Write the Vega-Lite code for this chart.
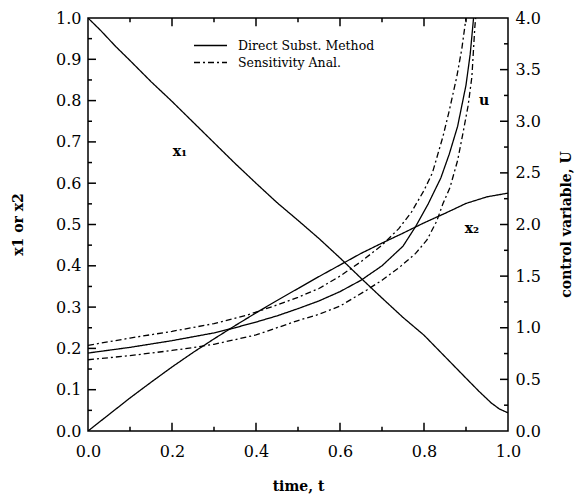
{
  "$schema": "https://vega.github.io/schema/vega-lite/v6.json",
  "width": 420,
  "height": 413,
  "autosize": {"type": "none"},
  "padding": {"left": 88, "top": 18, "right": 67, "bottom": 69},
  "background": "white",
  "config": {
    "view": {"stroke": "black", "strokeWidth": 1.5},
    "font": "DejaVu Serif",
    "axis": {
      "domain": false,
      "ticks": false,
      "tickSize": 0,
      "grid": false,
      "labelFlush": false,
      "labelFont": "DejaVu Serif",
      "labelFontSize": 16,
      "labelColor": "black",
      "titleFont": "DejaVu Serif",
      "titleFontSize": 14,
      "titleFontWeight": "bold",
      "titleColor": "black"
    }
  },
  "datasets": {
    "states": [
      {"curve": "x1", "method": "Direct Subst. Method", "t": 0, "v": 1.0},
      {"curve": "x1", "method": "Direct Subst. Method", "t": 0.03, "v": 0.97},
      {"curve": "x1", "method": "Direct Subst. Method", "t": 0.065, "v": 0.932},
      {"curve": "x1", "method": "Direct Subst. Method", "t": 0.1, "v": 0.897},
      {"curve": "x1", "method": "Direct Subst. Method", "t": 0.15, "v": 0.846},
      {"curve": "x1", "method": "Direct Subst. Method", "t": 0.2, "v": 0.798},
      {"curve": "x1", "method": "Direct Subst. Method", "t": 0.25, "v": 0.748},
      {"curve": "x1", "method": "Direct Subst. Method", "t": 0.3, "v": 0.698},
      {"curve": "x1", "method": "Direct Subst. Method", "t": 0.35, "v": 0.648},
      {"curve": "x1", "method": "Direct Subst. Method", "t": 0.4, "v": 0.6},
      {"curve": "x1", "method": "Direct Subst. Method", "t": 0.45, "v": 0.553},
      {"curve": "x1", "method": "Direct Subst. Method", "t": 0.5, "v": 0.51},
      {"curve": "x1", "method": "Direct Subst. Method", "t": 0.55, "v": 0.466},
      {"curve": "x1", "method": "Direct Subst. Method", "t": 0.6, "v": 0.419},
      {"curve": "x1", "method": "Direct Subst. Method", "t": 0.65, "v": 0.37},
      {"curve": "x1", "method": "Direct Subst. Method", "t": 0.7, "v": 0.322},
      {"curve": "x1", "method": "Direct Subst. Method", "t": 0.75, "v": 0.275},
      {"curve": "x1", "method": "Direct Subst. Method", "t": 0.8, "v": 0.232},
      {"curve": "x1", "method": "Direct Subst. Method", "t": 0.85, "v": 0.18},
      {"curve": "x1", "method": "Direct Subst. Method", "t": 0.9, "v": 0.128},
      {"curve": "x1", "method": "Direct Subst. Method", "t": 0.93, "v": 0.097},
      {"curve": "x1", "method": "Direct Subst. Method", "t": 0.96, "v": 0.068},
      {"curve": "x1", "method": "Direct Subst. Method", "t": 0.98, "v": 0.053},
      {"curve": "x1", "method": "Direct Subst. Method", "t": 1.0, "v": 0.044},
      {"curve": "x2", "method": "Direct Subst. Method", "t": 0, "v": 0},
      {"curve": "x2", "method": "Direct Subst. Method", "t": 0.05, "v": 0.04},
      {"curve": "x2", "method": "Direct Subst. Method", "t": 0.1, "v": 0.08},
      {"curve": "x2", "method": "Direct Subst. Method", "t": 0.15, "v": 0.118},
      {"curve": "x2", "method": "Direct Subst. Method", "t": 0.2, "v": 0.155},
      {"curve": "x2", "method": "Direct Subst. Method", "t": 0.25, "v": 0.19},
      {"curve": "x2", "method": "Direct Subst. Method", "t": 0.3, "v": 0.223},
      {"curve": "x2", "method": "Direct Subst. Method", "t": 0.35, "v": 0.255},
      {"curve": "x2", "method": "Direct Subst. Method", "t": 0.4, "v": 0.286},
      {"curve": "x2", "method": "Direct Subst. Method", "t": 0.45, "v": 0.316},
      {"curve": "x2", "method": "Direct Subst. Method", "t": 0.5, "v": 0.345},
      {"curve": "x2", "method": "Direct Subst. Method", "t": 0.55, "v": 0.374},
      {"curve": "x2", "method": "Direct Subst. Method", "t": 0.6, "v": 0.402},
      {"curve": "x2", "method": "Direct Subst. Method", "t": 0.65, "v": 0.43},
      {"curve": "x2", "method": "Direct Subst. Method", "t": 0.7, "v": 0.455},
      {"curve": "x2", "method": "Direct Subst. Method", "t": 0.75, "v": 0.479},
      {"curve": "x2", "method": "Direct Subst. Method", "t": 0.8, "v": 0.504},
      {"curve": "x2", "method": "Direct Subst. Method", "t": 0.85, "v": 0.527},
      {"curve": "x2", "method": "Direct Subst. Method", "t": 0.9, "v": 0.551},
      {"curve": "x2", "method": "Direct Subst. Method", "t": 0.95, "v": 0.567},
      {"curve": "x2", "method": "Direct Subst. Method", "t": 1.0, "v": 0.576}
    ],
    "control": [
      {"curve": "u", "method": "Direct Subst. Method", "t": 0, "u": 0.755},
      {"curve": "u", "method": "Direct Subst. Method", "t": 0.1, "u": 0.81},
      {"curve": "u", "method": "Direct Subst. Method", "t": 0.2, "u": 0.875},
      {"curve": "u", "method": "Direct Subst. Method", "t": 0.3, "u": 0.95},
      {"curve": "u", "method": "Direct Subst. Method", "t": 0.35, "u": 1.0},
      {"curve": "u", "method": "Direct Subst. Method", "t": 0.4, "u": 1.055},
      {"curve": "u", "method": "Direct Subst. Method", "t": 0.45, "u": 1.115},
      {"curve": "u", "method": "Direct Subst. Method", "t": 0.5, "u": 1.185},
      {"curve": "u", "method": "Direct Subst. Method", "t": 0.55, "u": 1.26},
      {"curve": "u", "method": "Direct Subst. Method", "t": 0.6, "u": 1.35},
      {"curve": "u", "method": "Direct Subst. Method", "t": 0.65, "u": 1.46},
      {"curve": "u", "method": "Direct Subst. Method", "t": 0.7, "u": 1.6},
      {"curve": "u", "method": "Direct Subst. Method", "t": 0.75, "u": 1.79},
      {"curve": "u", "method": "Direct Subst. Method", "t": 0.78, "u": 1.98},
      {"curve": "u", "method": "Direct Subst. Method", "t": 0.81, "u": 2.2},
      {"curve": "u", "method": "Direct Subst. Method", "t": 0.84, "u": 2.45},
      {"curve": "u", "method": "Direct Subst. Method", "t": 0.86, "u": 2.68},
      {"curve": "u", "method": "Direct Subst. Method", "t": 0.88, "u": 2.95},
      {"curve": "u", "method": "Direct Subst. Method", "t": 0.9, "u": 3.35},
      {"curve": "u", "method": "Direct Subst. Method", "t": 0.91, "u": 3.65},
      {"curve": "u", "method": "Direct Subst. Method", "t": 0.918, "u": 4.0},
      {"curve": "u_hi", "method": "Sensitivity Anal.", "t": 0, "u": 0.83},
      {"curve": "u_hi", "method": "Sensitivity Anal.", "t": 0.1, "u": 0.9},
      {"curve": "u_hi", "method": "Sensitivity Anal.", "t": 0.2, "u": 0.965},
      {"curve": "u_hi", "method": "Sensitivity Anal.", "t": 0.3, "u": 1.04},
      {"curve": "u_hi", "method": "Sensitivity Anal.", "t": 0.38, "u": 1.124},
      {"curve": "u_hi", "method": "Sensitivity Anal.", "t": 0.45, "u": 1.22},
      {"curve": "u_hi", "method": "Sensitivity Anal.", "t": 0.5, "u": 1.295},
      {"curve": "u_hi", "method": "Sensitivity Anal.", "t": 0.55, "u": 1.38},
      {"curve": "u_hi", "method": "Sensitivity Anal.", "t": 0.6, "u": 1.5},
      {"curve": "u_hi", "method": "Sensitivity Anal.", "t": 0.65, "u": 1.64},
      {"curve": "u_hi", "method": "Sensitivity Anal.", "t": 0.7, "u": 1.8},
      {"curve": "u_hi", "method": "Sensitivity Anal.", "t": 0.74, "u": 1.96},
      {"curve": "u_hi", "method": "Sensitivity Anal.", "t": 0.77, "u": 2.12},
      {"curve": "u_hi", "method": "Sensitivity Anal.", "t": 0.8, "u": 2.33},
      {"curve": "u_hi", "method": "Sensitivity Anal.", "t": 0.82, "u": 2.5},
      {"curve": "u_hi", "method": "Sensitivity Anal.", "t": 0.845, "u": 2.85},
      {"curve": "u_hi", "method": "Sensitivity Anal.", "t": 0.86, "u": 3.1},
      {"curve": "u_hi", "method": "Sensitivity Anal.", "t": 0.878, "u": 3.43},
      {"curve": "u_hi", "method": "Sensitivity Anal.", "t": 0.89, "u": 3.7},
      {"curve": "u_hi", "method": "Sensitivity Anal.", "t": 0.9, "u": 4.0},
      {"curve": "u_lo", "method": "Sensitivity Anal.", "t": 0, "u": 0.69},
      {"curve": "u_lo", "method": "Sensitivity Anal.", "t": 0.1, "u": 0.73},
      {"curve": "u_lo", "method": "Sensitivity Anal.", "t": 0.2, "u": 0.78},
      {"curve": "u_lo", "method": "Sensitivity Anal.", "t": 0.26, "u": 0.814},
      {"curve": "u_lo", "method": "Sensitivity Anal.", "t": 0.3, "u": 0.84},
      {"curve": "u_lo", "method": "Sensitivity Anal.", "t": 0.4, "u": 0.93},
      {"curve": "u_lo", "method": "Sensitivity Anal.", "t": 0.5, "u": 1.07},
      {"curve": "u_lo", "method": "Sensitivity Anal.", "t": 0.55, "u": 1.13},
      {"curve": "u_lo", "method": "Sensitivity Anal.", "t": 0.6, "u": 1.21},
      {"curve": "u_lo", "method": "Sensitivity Anal.", "t": 0.664, "u": 1.366},
      {"curve": "u_lo", "method": "Sensitivity Anal.", "t": 0.7, "u": 1.46},
      {"curve": "u_lo", "method": "Sensitivity Anal.", "t": 0.743, "u": 1.59},
      {"curve": "u_lo", "method": "Sensitivity Anal.", "t": 0.78, "u": 1.72},
      {"curve": "u_lo", "method": "Sensitivity Anal.", "t": 0.807, "u": 1.85},
      {"curve": "u_lo", "method": "Sensitivity Anal.", "t": 0.83, "u": 2.03},
      {"curve": "u_lo", "method": "Sensitivity Anal.", "t": 0.845, "u": 2.2},
      {"curve": "u_lo", "method": "Sensitivity Anal.", "t": 0.862, "u": 2.36},
      {"curve": "u_lo", "method": "Sensitivity Anal.", "t": 0.88, "u": 2.62},
      {"curve": "u_lo", "method": "Sensitivity Anal.", "t": 0.893, "u": 2.89},
      {"curve": "u_lo", "method": "Sensitivity Anal.", "t": 0.905, "u": 3.15},
      {"curve": "u_lo", "method": "Sensitivity Anal.", "t": 0.914, "u": 3.43},
      {"curve": "u_lo", "method": "Sensitivity Anal.", "t": 0.921, "u": 3.91},
      {"curve": "u_lo", "method": "Sensitivity Anal.", "t": 0.923, "u": 4.0}
    ],
    "labels": [
      {"text": "x₁", "t": 0.219, "v": 0.676},
      {"text": "x₂", "t": 0.914, "v": 0.489},
      {"text": "u", "t": 0.943, "v": 0.8}
    ],
    "xticks": [
      {"t": 0.1, "kind": "minor"}, {"t": 0.2, "kind": "major"}, {"t": 0.3, "kind": "minor"},
      {"t": 0.4, "kind": "major"}, {"t": 0.5, "kind": "minor"}, {"t": 0.6, "kind": "major"},
      {"t": 0.7, "kind": "minor"}, {"t": 0.8, "kind": "major"}, {"t": 0.9, "kind": "minor"}
    ],
    "yticks": [
      {"v": 0.05, "kind": "minor"}, {"v": 0.1, "kind": "major"}, {"v": 0.15, "kind": "minor"},
      {"v": 0.2, "kind": "major"}, {"v": 0.25, "kind": "minor"}, {"v": 0.3, "kind": "major"},
      {"v": 0.35, "kind": "minor"}, {"v": 0.4, "kind": "major"}, {"v": 0.45, "kind": "minor"},
      {"v": 0.5, "kind": "major"}, {"v": 0.55, "kind": "minor"}, {"v": 0.6, "kind": "major"},
      {"v": 0.65, "kind": "minor"}, {"v": 0.7, "kind": "major"}, {"v": 0.75, "kind": "minor"},
      {"v": 0.8, "kind": "major"}, {"v": 0.85, "kind": "minor"}, {"v": 0.9, "kind": "major"},
      {"v": 0.95, "kind": "minor"}
    ],
    "uticks": [
      {"u": 0.25, "kind": "minor"}, {"u": 0.5, "kind": "major"}, {"u": 0.75, "kind": "minor"},
      {"u": 1.0, "kind": "major"}, {"u": 1.25, "kind": "minor"}, {"u": 1.5, "kind": "major"},
      {"u": 1.75, "kind": "minor"}, {"u": 2.0, "kind": "major"}, {"u": 2.25, "kind": "minor"},
      {"u": 2.5, "kind": "major"}, {"u": 2.75, "kind": "minor"}, {"u": 3.0, "kind": "major"},
      {"u": 3.25, "kind": "minor"}, {"u": 3.5, "kind": "major"}, {"u": 3.75, "kind": "minor"}
    ]
  },
  "layer": [
    {
      "data": {"name": "states"},
      "mark": {"type": "line", "color": "black", "strokeWidth": 1.3, "clip": true},
      "encoding": {
        "x": {
          "field": "t", "type": "quantitative",
          "scale": {"domain": [0, 1], "nice": false, "zero": false},
          "axis": {
            "orient": "bottom",
            "values": [0, 0.2, 0.4, 0.6, 0.8, 1.0],
            "format": ".1f",
            "labelPadding": 12,
            "title": "time, t",
            "titleBaseline": "middle",
            "titleY": 55
          }
        },
        "y": {
          "field": "v", "type": "quantitative",
          "scale": {"domain": [0, 1], "nice": false, "zero": false},
          "axis": {
            "orient": "left",
            "values": [0, 0.1, 0.2, 0.3, 0.4, 0.5, 0.6, 0.7, 0.8, 0.9, 1.0],
            "format": ".1f",
            "labelPadding": 7,
            "title": "x1 or x2",
            "titleX": -70,
            "titleY": 206,
            "titleBaseline": "middle",
            "titleAngle": 270
          }
        },
        "detail": {"field": "curve"},
        "strokeDash": {
          "field": "method", "type": "nominal",
          "scale": {"domain": ["Direct Subst. Method", "Sensitivity Anal."], "range": [[1, 0], [6, 3, 2, 3]]},
          "legend": {
            "orient": "none",
            "legendX": 116,
            "legendY": 21,
            "title": null,
            "padding": 0,
            "symbolType": "M-3,0H3",
            "symbolSize": 121,
            "symbolStrokeColor": "black",
            "symbolStrokeWidth": 1.3,
            "labelFont": "DejaVu Serif",
            "labelFontSize": 12.5,
            "labelColor": "black",
            "labelOffset": 21,
            "rowPadding": 4
          }
        }
      }
    },
    {
      "data": {"name": "labels"},
      "mark": {"type": "text", "font": "DejaVu Serif", "fontSize": 14, "fontWeight": "bold", "color": "black"},
      "encoding": {
        "x": {"field": "t", "type": "quantitative", "axis": null},
        "y": {"field": "v", "type": "quantitative", "axis": null, "scale": {"domain": [0, 1], "nice": false, "zero": false}},
        "text": {"field": "text"}
      }
    },
    {
      "data": {"name": "control"},
      "mark": {"type": "line", "color": "black", "strokeWidth": 1.3, "clip": true},
      "encoding": {
        "x": {"field": "t", "type": "quantitative", "axis": null},
        "y": {
          "field": "u", "type": "quantitative",
          "scale": {"domain": [0, 4], "nice": false, "zero": false},
          "axis": {
            "orient": "right",
            "values": [0, 0.5, 1.0, 1.5, 2.0, 2.5, 3.0, 3.5, 4.0],
            "format": ".1f",
            "labelPadding": 7,
            "title": "control variable, U",
            "titleX": 58,
            "titleY": 206,
            "titleBaseline": "middle",
            "titleAngle": 270
          }
        },
        "detail": {"field": "curve"},
        "strokeDash": {"field": "method", "type": "nominal"}
      }
    },
    {
      "data": {"name": "xticks"},
      "transform": [{"filter": "datum.kind == 'major'"}],
      "mark": {"type": "rule", "color": "black", "strokeWidth": 1.5},
      "encoding": {
        "x": {"field": "t", "type": "quantitative", "axis": null},
        "y": {"datum": 0, "type": "quantitative", "axis": null, "scale": {"domain": [0, 1], "nice": false, "zero": false}},
        "y2": {"datum": 0.02}
      }
    },
    {
      "data": {"name": "xticks"},
      "transform": [{"filter": "datum.kind == 'minor'"}],
      "mark": {"type": "rule", "color": "black", "strokeWidth": 1.5},
      "encoding": {
        "x": {"field": "t", "type": "quantitative", "axis": null},
        "y": {"datum": 0, "type": "quantitative", "axis": null, "scale": {"domain": [0, 1], "nice": false, "zero": false}},
        "y2": {"datum": 0.01}
      }
    },
    {
      "data": {"name": "xticks"},
      "transform": [{"filter": "datum.kind == 'major'"}],
      "mark": {"type": "rule", "color": "black", "strokeWidth": 1.5},
      "encoding": {
        "x": {"field": "t", "type": "quantitative", "axis": null},
        "y": {"datum": 1, "type": "quantitative", "axis": null, "scale": {"domain": [0, 1], "nice": false, "zero": false}},
        "y2": {"datum": 0.98}
      }
    },
    {
      "data": {"name": "xticks"},
      "transform": [{"filter": "datum.kind == 'minor'"}],
      "mark": {"type": "rule", "color": "black", "strokeWidth": 1.5},
      "encoding": {
        "x": {"field": "t", "type": "quantitative", "axis": null},
        "y": {"datum": 1, "type": "quantitative", "axis": null, "scale": {"domain": [0, 1], "nice": false, "zero": false}},
        "y2": {"datum": 0.99}
      }
    },
    {
      "data": {"name": "yticks"},
      "transform": [{"filter": "datum.kind == 'major'"}],
      "mark": {"type": "rule", "color": "black", "strokeWidth": 1.5},
      "encoding": {
        "x": {"datum": 0, "type": "quantitative", "axis": null},
        "x2": {"datum": 0.019},
        "y": {"field": "v", "type": "quantitative", "axis": null, "scale": {"domain": [0, 1], "nice": false, "zero": false}}
      }
    },
    {
      "data": {"name": "yticks"},
      "transform": [{"filter": "datum.kind == 'minor'"}],
      "mark": {"type": "rule", "color": "black", "strokeWidth": 1.5},
      "encoding": {
        "x": {"datum": 0, "type": "quantitative", "axis": null},
        "x2": {"datum": 0.0095},
        "y": {"field": "v", "type": "quantitative", "axis": null, "scale": {"domain": [0, 1], "nice": false, "zero": false}}
      }
    },
    {
      "data": {"name": "uticks"},
      "transform": [{"filter": "datum.kind == 'major'"}],
      "mark": {"type": "rule", "color": "black", "strokeWidth": 1.5},
      "encoding": {
        "x": {"datum": 1, "type": "quantitative", "axis": null},
        "x2": {"datum": 0.981},
        "y": {"field": "u", "type": "quantitative", "axis": null, "scale": {"domain": [0, 4], "nice": false, "zero": false}}
      }
    },
    {
      "data": {"name": "uticks"},
      "transform": [{"filter": "datum.kind == 'minor'"}],
      "mark": {"type": "rule", "color": "black", "strokeWidth": 1.5},
      "encoding": {
        "x": {"datum": 1, "type": "quantitative", "axis": null},
        "x2": {"datum": 0.9905},
        "y": {"field": "u", "type": "quantitative", "axis": null, "scale": {"domain": [0, 4], "nice": false, "zero": false}}
      }
    }
  ],
  "resolve": {"scale": {"y": "independent"}, "axis": {"x": "independent", "y": "independent"}}
}
